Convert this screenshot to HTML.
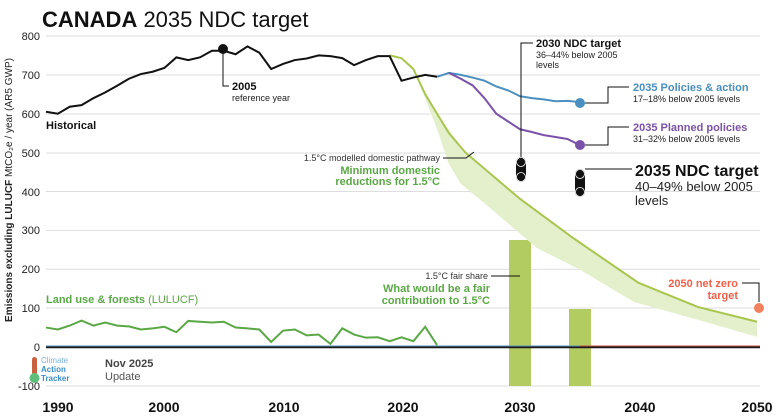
<!DOCTYPE html>
<html><head><meta charset="utf-8"><style>
body{margin:0;background:#fff}
svg{display:block;font-family:"Liberation Sans",sans-serif}
</style></head><body>
<svg width="777" height="417" viewBox="0 0 777 417">
<text x="42" y="27" font-size="22" fill="#111"><tspan font-weight="bold">CANADA</tspan> 2035 NDC target</text>
<g stroke="#dedede" stroke-width="1">
<line x1="46" x2="760" y1="36" y2="36"/><line x1="46" x2="760" y1="75" y2="75"/><line x1="46" x2="760" y1="114" y2="114"/><line x1="46" x2="760" y1="153" y2="153"/><line x1="46" x2="760" y1="191.5" y2="191.5"/><line x1="46" x2="760" y1="230.4" y2="230.4"/><line x1="46" x2="760" y1="269.2" y2="269.2"/><line x1="46" x2="760" y1="308" y2="308"/><line x1="46" x2="760" y1="386" y2="386"/>
</g>
<g font-size="11" fill="#222" text-anchor="end">
<text x="40" y="40">800</text><text x="40" y="79">700</text><text x="40" y="118">600</text><text x="40" y="157">500</text><text x="40" y="196">400</text><text x="40" y="234">300</text><text x="40" y="273">200</text><text x="40" y="312">100</text><text x="40" y="351">0</text><text x="40" y="390">-100</text>
</g>
<text transform="translate(12,190) rotate(-90)" text-anchor="middle" font-size="10" fill="#222"><tspan font-weight="bold">Emissions excluding LULUCF</tspan> MtCO₂e / year (AR5 GWP)</text>
<g font-size="14" font-weight="bold" fill="#111" text-anchor="middle">
<text x="58" y="412">1990</text><text x="164" y="412">2000</text><text x="284" y="412">2010</text><text x="403" y="412">2020</text><text x="520" y="412">2030</text><text x="640" y="412">2040</text><text x="757" y="412">2050</text>
</g>
<rect x="509" y="240" width="22" height="146" fill="#b2cc62"/>
<rect x="569" y="309" width="22" height="77" fill="#b2cc62"/>
<g transform="translate(46,347) scale(11.85,-0.3888)">
<polygon fill="#e4efcc" points="29,750 30,743 31,715 32,640 33,560 34,470 35,420 37,370 41.4,255 45,200 49.6,116 55,70 60,26 60,65 55,103 50,165 44.5,280 40,381 35.4,500 33,600 31,715 30,743"/>
<polyline fill="none" stroke="#a8c64e" stroke-width="2" vector-effect="non-scaling-stroke" points="29,750 30,743 31,715 32,650 33,600 34,550 35.4,500 40,381 44.5,280 50,165 55,103 60,65"/>
<polyline fill="none" stroke="#111" stroke-width="2" vector-effect="non-scaling-stroke" points="0,605 1,600 2,618 3,622 4,640 5,655 6,672 7,690 8,702 9,708 10,718 11,745 12,738 13,745 14,762 15,762 16,753 17,773 18,757 19,715 20,728 21,738 22,742 23,750 24,748 25,743 26,725 27,738 28,748 29,748 30,685 31,693 32,700 33,695"/>
<polyline fill="none" stroke="#4a8fbf" stroke-width="2" vector-effect="non-scaling-stroke" points="33,695 34,705 35,700 36,693 37,685 38,670 39,660 40,645 41,640 42,637 43,632 44,633 45,630"/>
<polyline fill="none" stroke="#7a52a8" stroke-width="2" vector-effect="non-scaling-stroke" points="34,705 35,690 36,673 37,640 38,600 39,580 40,560 41,553 42,545 43,540 44,535 45,520"/>
<polyline fill="none" stroke="#5aa845" stroke-width="2" vector-effect="non-scaling-stroke" points="0,50 1,45 2,55 3,68 4,55 5,63 6,55 7,53 8,45 9,48 10,52 11,38 12,67 13,65 14,63 15,65 16,50 17,48 18,45 19,13 20,42 21,45 22,30 23,32 24,8 25,48 26,32 27,24 28,25 29,15 30,25 31,15 32,52 33,5"/>
</g>
<line x1="46" x2="760" y1="347" y2="347" stroke="#1a1a1a" stroke-width="2.5"/>
<line x1="46" x2="580" y1="346" y2="346" stroke="#5a8fb8" stroke-width="1"/>
<line x1="580" x2="760" y1="346" y2="346" stroke="#c05040" stroke-width="1"/>
<circle cx="223" cy="49" r="5" fill="#111"/>
<polyline points="223,49 223,86 229,86" fill="none" stroke="#111"/>
<text x="232" y="90" font-size="11" font-weight="bold" fill="#111">2005</text>
<text x="232" y="101" font-size="9" fill="#222">reference year</text>
<text x="46" y="129" font-size="11" font-weight="bold" fill="#111">Historical</text>
<polyline points="533,43 521,43 521,157" fill="none" stroke="#111"/>
<text x="536" y="47" font-size="11" font-weight="bold" fill="#111">2030 NDC target</text>
<text x="536" y="58" font-size="9" fill="#222">36–44% below 2005</text>
<text x="536" y="68" font-size="9" fill="#222">levels</text>
<rect x="516" y="157" width="10" height="25" rx="5" fill="#111"/>
<circle cx="521" cy="162" r="4.5" fill="#111" stroke="#fff" stroke-width="0.8"/>
<circle cx="521" cy="177" r="4.5" fill="#111" stroke="#fff" stroke-width="0.8"/>
<rect x="575" y="169" width="10" height="28" rx="5" fill="#111"/>
<circle cx="580" cy="174" r="4.5" fill="#111" stroke="#fff" stroke-width="0.8"/>
<circle cx="580" cy="192" r="4.5" fill="#111" stroke="#fff" stroke-width="0.8"/>
<line x1="585" y1="169" x2="632" y2="169" stroke="#111"/>
<text x="635" y="176" font-size="16" font-weight="bold" fill="#111">2035 NDC target</text>
<text x="635" y="191" font-size="13" fill="#222">40–49% below 2005</text>
<text x="635" y="205" font-size="13" fill="#222">levels</text>
<circle cx="580" cy="103" r="5" fill="#4a8fbf"/>
<polyline points="585,103 608,103 608,87 629,87" fill="none" stroke="#111"/>
<text x="633" y="91" font-size="11" font-weight="bold" fill="#4a8fbf">2035 Policies &amp; action</text>
<text x="633" y="102" font-size="9" fill="#222">17–18% below 2005 levels</text>
<circle cx="580" cy="145" r="5" fill="#7a52a8"/>
<polyline points="585,145 608,145 608,127 629,127" fill="none" stroke="#111"/>
<text x="633" y="131" font-size="11" font-weight="bold" fill="#7a52a8">2035 Planned policies</text>
<text x="633" y="142" font-size="9" fill="#222">31–32% below 2005 levels</text>
<polyline points="443,158 466,158 474,152" fill="none" stroke="#111"/>
<text x="440" y="161" font-size="9" fill="#333" text-anchor="end">1.5°C modelled domestic pathway</text>
<text x="440" y="174" font-size="11" font-weight="bold" fill="#5aa845" text-anchor="end">Minimum domestic</text>
<text x="440" y="185" font-size="11" font-weight="bold" fill="#5aa845" text-anchor="end">reductions for 1.5°C</text>
<line x1="491" y1="276" x2="520" y2="276" stroke="#111"/>
<text x="488" y="279" font-size="9" fill="#333" text-anchor="end">1.5°C fair share</text>
<text x="490" y="292" font-size="11" font-weight="bold" fill="#5aa845" text-anchor="end">What would be a fair</text>
<text x="490" y="304" font-size="11" font-weight="bold" fill="#5aa845" text-anchor="end">contribution to 1.5°C</text>
<polyline points="742,283 759,283 759,302" fill="none" stroke="#111"/>
<circle cx="759" cy="308" r="5" fill="#f0805e"/>
<text x="738" y="287" font-size="11" font-weight="bold" fill="#f0604a" text-anchor="end">2050 net zero</text>
<text x="738" y="299" font-size="11" font-weight="bold" fill="#f0604a" text-anchor="end">target</text>
<text x="46" y="303" font-size="11" fill="#5aa845"><tspan font-weight="bold">Land use &amp; forests</tspan> (LULUCF)</text>
<rect x="32" y="357" width="5" height="18" rx="2.5" fill="#c86040"/>
<circle cx="34.5" cy="378" r="5" fill="#5fbf7a"/>
<text x="41" y="363" font-size="8" fill="#7ab0d8">Climate</text>
<text x="41" y="372" font-size="8" font-weight="bold" fill="#3a8fc8">Action</text>
<text x="41" y="381" font-size="8" font-weight="bold" fill="#3a8fc8">Tracker</text>
<text x="105" y="367" font-size="11" font-weight="bold" fill="#444">Nov 2025</text>
<text x="105" y="380" font-size="11" fill="#555">Update</text>
</svg>
</body></html>
